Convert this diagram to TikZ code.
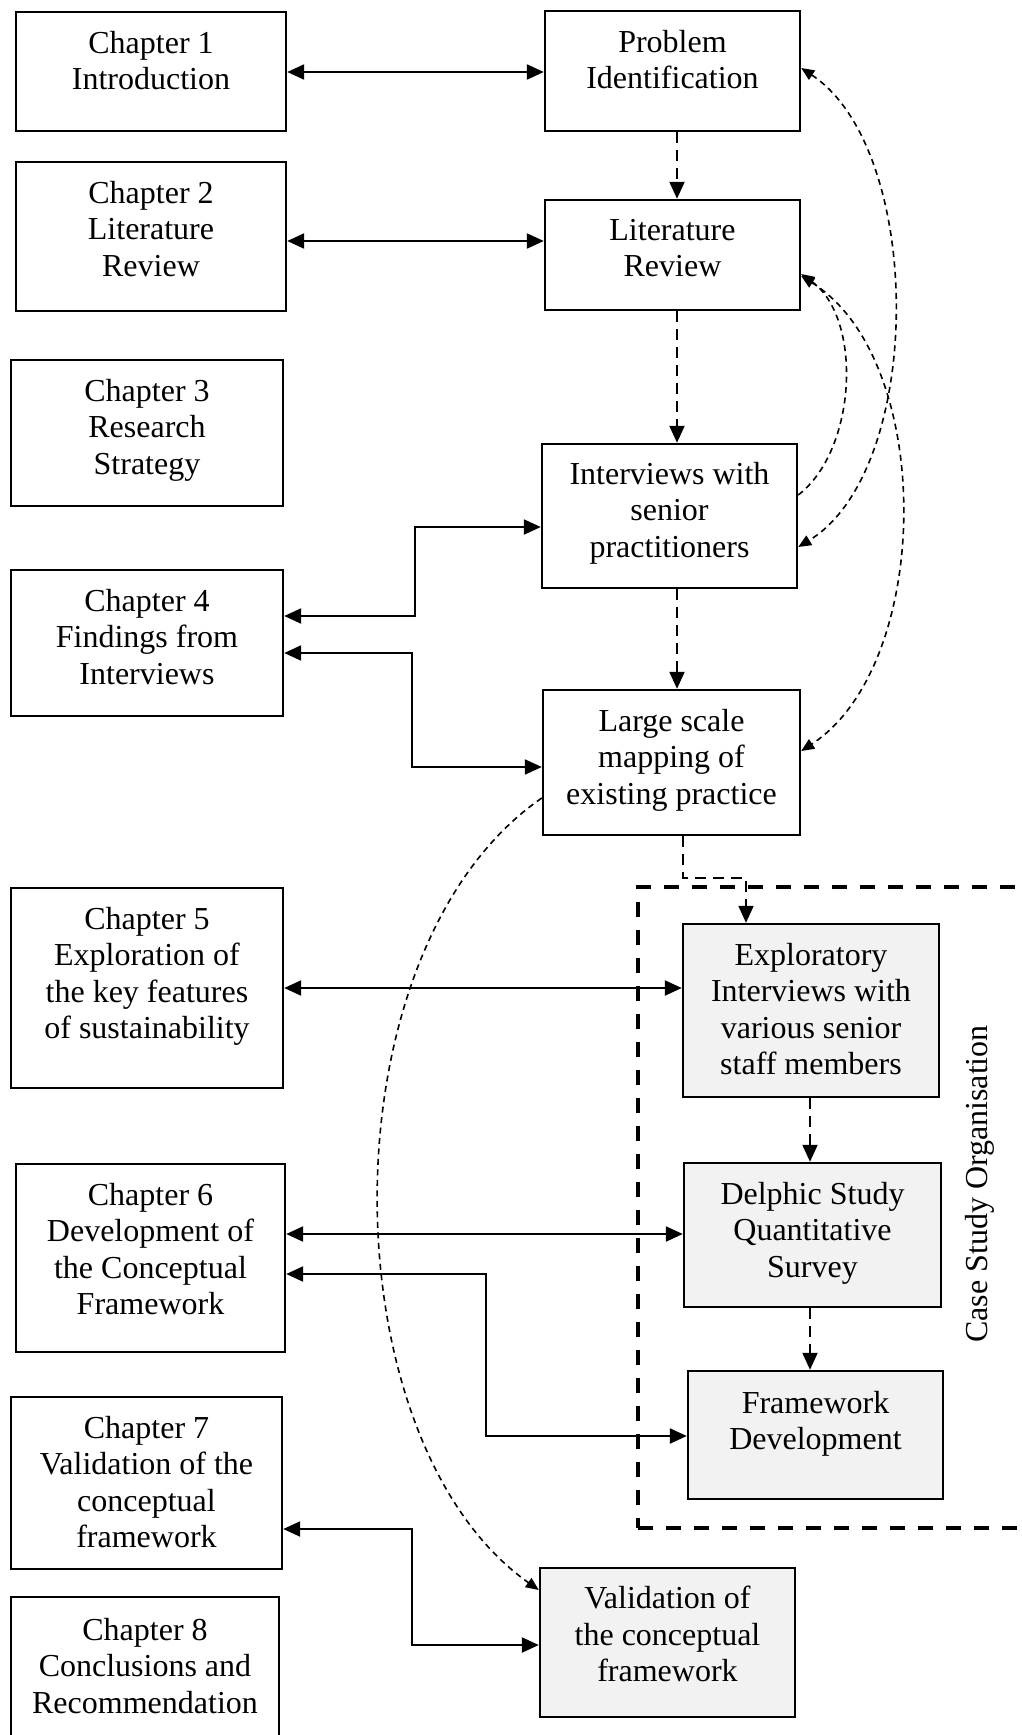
\documentclass[tikz,border=0pt]{standalone}
\usepackage{fontspec}
\setmainfont{Liberation Serif}
\usetikzlibrary{arrows.meta}
% box from (x1,y1) to (x2,y2), y counted downwards
\newcommand\placebox[6]{\node[#1, minimum width={#4-#2}, minimum height={#5-#3}] (#6) at ({(#2+#4)/2},{(#3+#5)/2}) {};}
\begin{document}
\begin{tikzpicture}[x=1pt,y=-1pt,
  box/.style={draw, line width=2.4pt, inner sep=0pt},
  shadebox/.style={box, fill=black!5},
  txt/.style={anchor=north, align=center, inner sep=0pt, font=\fontsize{32}{36.5}\selectfont},
  bigtip/.tip={Triangle[length=17pt,width=15pt]},
  smalltip/.tip={Triangle[length=13pt,width=11pt]},
  link/.style={line width=2.2pt, bigtip-bigtip},
  flow/.style={line width=2pt, dash pattern=on 11pt off 7pt, -bigtip},
  loopline/.style={line width=1.6pt, dash pattern=on 6pt off 4.5pt},
  region/.style={draw, line width=3.2pt, dash pattern=on 15pt off 13pt, inner sep=0pt}
]
\path[use as bounding box] (0,0) rectangle (1022,1735);
\clip (0,0) rectangle (1022,1735);
\fill[white] (0,0) rectangle (1022,1735);

% case study frame
\placebox{region}{638}{887}{1080}{1528}{org}
\node[rotate=90, inner sep=0pt, font=\fontsize{32}{36.5}\selectfont] (orglabel) at (980,1184) {Case Study Organisation};

% chapter column
\placebox{box}{16}{12}{286}{131}{ch1}
\placebox{box}{16}{162}{286}{311}{ch2}
\placebox{box}{11}{360}{283}{506}{ch3}
\placebox{box}{11}{570}{283}{716}{ch4}
\placebox{box}{11}{888}{283}{1088}{ch5}
\placebox{box}{16}{1164}{285}{1352}{ch6}
\placebox{box}{11}{1397}{282}{1569}{ch7}
\placebox{box}{11}{1597}{279}{1770}{ch8}

% research process column
\placebox{box}{545}{11}{800}{131}{pi}
\placebox{box}{545}{200}{800}{310}{lr}
\placebox{box}{542}{444}{797}{588}{int}
\placebox{box}{543}{690}{800}{835}{large}
\placebox{shadebox}{683}{924}{939}{1097}{expl}
\placebox{shadebox}{684}{1163}{941}{1307}{delph}
\placebox{shadebox}{688}{1371}{943}{1499}{fd}
\placebox{shadebox}{540}{1568}{795}{1717}{val}

% texts
\node[txt] (ch1t) at ([yshift=-20pt]ch1.north) {Chapter 1\\Introduction};
\node[txt] (ch2t) at ([yshift=-20pt]ch2.north) {Chapter 2\\Literature\\Review};
\node[txt] (ch3t) at ([yshift=-20pt]ch3.north) {Chapter 3\\Research\\Strategy};
\node[txt] (ch4t) at ([yshift=-20pt]ch4.north) {Chapter 4\\Findings from\\Interviews};
\node[txt] (ch5t) at ([yshift=-20pt]ch5.north) {Chapter 5\\Exploration of\\the key features\\of sustainability};
\node[txt] (ch6t) at ([yshift=-20pt]ch6.north) {Chapter 6\\Development of\\the Conceptual\\Framework};
\node[txt] (ch7t) at ([yshift=-20pt]ch7.north) {Chapter 7\\Validation of the\\conceptual\\framework};
\node[txt] (ch8t) at ([yshift=-22pt]ch8.north) {Chapter 8\\Conclusions and\\Recommendation};
\node[txt] (pit) at ([yshift=-20pt]pi.north) {Problem\\Identification};
\node[txt] (lrt) at ([yshift=-20pt]lr.north) {Literature\\Review};
\node[txt] (intt) at ([yshift=-19pt]int.north) {Interviews with\\senior\\practitioners};
\node[txt] (larget) at ([yshift=-20pt]large.north) {Large scale\\mapping of\\existing practice};
\node[txt] (explt) at ([yshift=-20pt]expl.north) {Exploratory\\Interviews with\\various senior\\staff members};
\node[txt] (delpht) at ([yshift=-20pt]delph.north) {Delphic Study\\Quantitative\\Survey};
\node[txt] (fdt) at ([yshift=-21pt]fd.north) {Framework\\Development};
\node[txt] (valt) at ([yshift=-19pt]val.north) {Validation of\\the conceptual\\framework};

% links between chapters and research steps
\draw[link] (ch1.east |- 0,72) -- (pi.west |- 0,72);
\draw[link] (ch2.east |- 0,241) -- (lr.west |- 0,241);
\draw[link] (int.west |- 0,527) -- (415,527) |- (ch4.east |- 0,616);
\draw[link] (ch4.east |- 0,653) -- (412,653) |- (large.west |- 0,767);
\draw[link] (ch5.east |- 0,988) -- (expl.west |- 0,988);
\draw[link] (ch6.east |- 0,1234) -- (delph.west |- 0,1234);
\draw[link] (ch6.east |- 0,1274) -- (486,1274) |- (fd.west |- 0,1436);
\draw[link] (ch7.east |- 0,1529) -- (412,1529) |- (val.west |- 0,1645);

% sequence of research steps
\draw[flow] (pi.south -| 677,0) -- (lr.north -| 677,0);
\draw[flow] (lr.south -| 677,0) -- (int.north -| 677,0);
\draw[flow] (int.south -| 677,0) -- (large.north -| 677,0);
\draw[flow] (large.south -| 683,0) -- (683,878) -| (expl.north -| 746,0);
\draw[flow] (expl.south -| 810,0) -- (delph.north -| 810,0);
\draw[flow] (delph.south -| 810,0) -- (fd.north -| 810,0);

% feedback loops
\draw[loopline, smalltip-smalltip] (pi.east |- 0,68) .. controls (925,150) and (925,470) .. (int.east |- 0,547);
\draw[loopline, -smalltip] (int.east |- 0,495) .. controls (857,450) and (863,318) .. (lr.east |- 0,274);
\draw[loopline, smalltip-smalltip] (lr.east |- 0,276) .. controls (936,360) and (933,665) .. (large.east |- 0,751);
\draw[loopline, -smalltip] (large.west |- 0,798) .. controls (322,950) and (327,1440) .. (val.west |- 0,1590);
\end{tikzpicture}
\end{document}
